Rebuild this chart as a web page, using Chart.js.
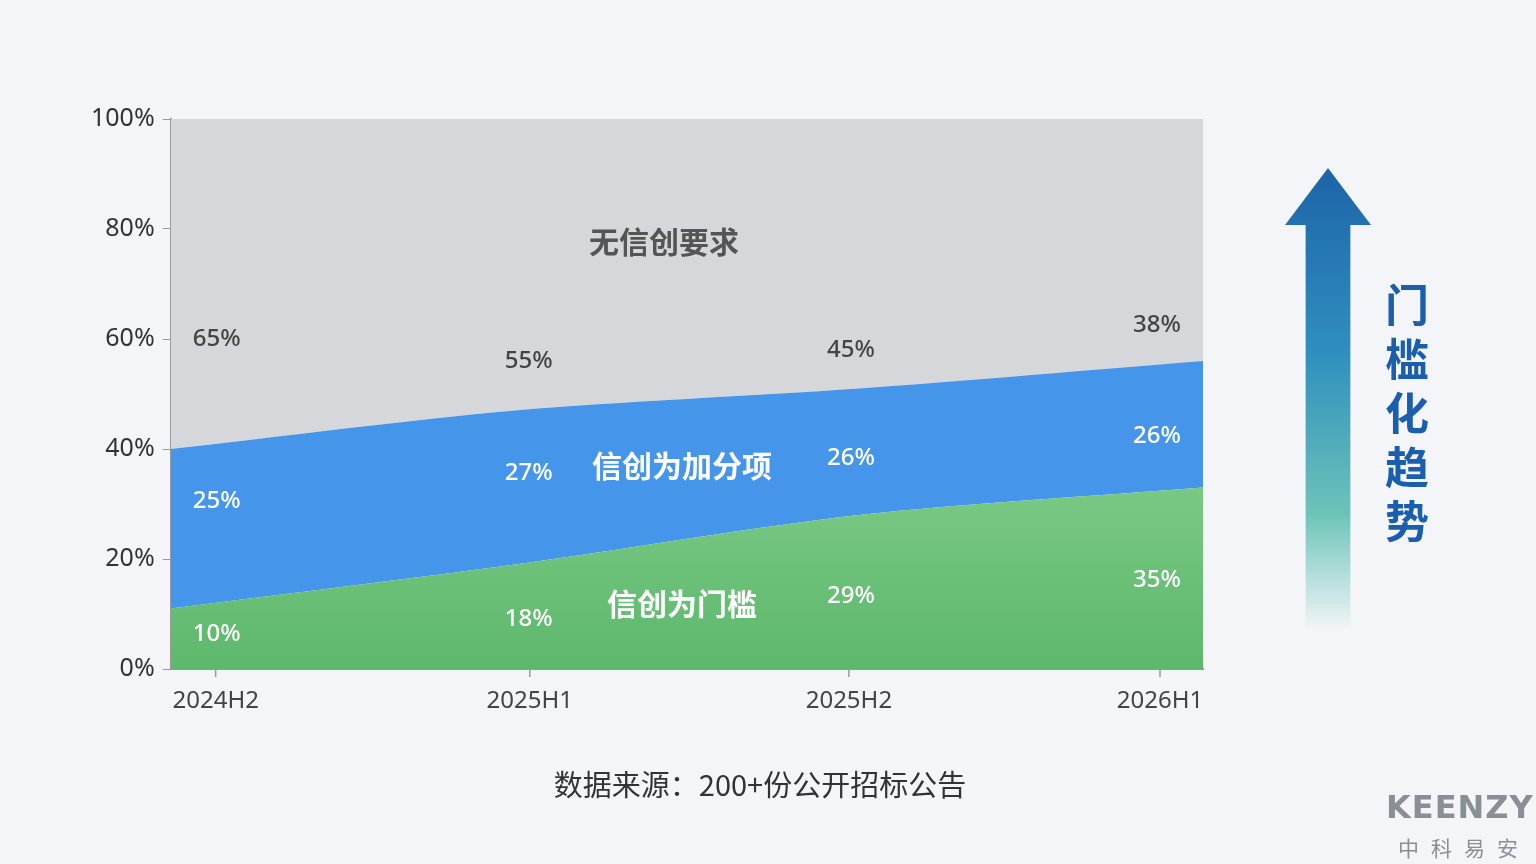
<!DOCTYPE html>
<html><head><meta charset="utf-8">
<script src="https://cdn.jsdelivr.net/npm/chart.js@4"></script>
<style>
body{margin:0;background:#f3f5f8;font-family:"Noto Sans CJK SC","Noto Sans",sans-serif;}
#wrap{position:absolute;left:0;top:0;width:1536px;height:864px;}
#arrow{position:absolute;left:1285px;top:168px;width:86px;height:462px;
clip-path:polygon(50% 0,100% 57px,76% 57px,76% 100%,24% 100%,24% 57px,0 57px);
background:linear-gradient(#1d64a8,#2f8fbf 40%,#6cc4b8 75%,rgba(150,215,200,0) 100%);}
#trend{position:absolute;left:1382px;top:276px;width:50px;font-size:44px;font-weight:bold;color:#1a5fae;line-height:54px;text-align:center;}
#src{position:absolute;left:0;width:1520px;top:762px;text-align:center;font-size:29px;color:#333;}
#logo{position:absolute;left:1386px;top:788px;font-family:"DejaVu Sans";font-size:32px;font-weight:bold;color:#8a8f96;letter-spacing:1px;}
#logo2{position:absolute;left:1398px;top:832px;font-size:21px;color:#8a8f96;letter-spacing:12px;}
</style></head><body>
<div id="wrap"><canvas id="c" width="1536" height="864"></canvas></div>
<div id="arrow"></div>
<div id="trend">门<br>槛<br>化<br>趋<br>势</div>
<div id="src">数据来源：200+份公开招标公告</div>
<div id="logo">KEENZY</div>
<div id="logo2">中科易安</div>
<script>
var periods = ['2024H2', '2025H1', '2025H2', '2026H1'];
var greenVals = [11, 19, 28, 33];
var blueVals = [29, 28, 23, 23];
var grayVals = [60, 53, 49, 44];
var greenLabels = ['10%', '18%', '29%', '35%'];
var blueLabels = ['25%', '27%', '26%', '26%'];
var grayLabels = ['65%', '55%', '45%', '38%'];
var yTicks = [0, 20, 40, 60, 80, 100];

// label placement (style only)
var labelShift = [46, 14, -8, -46];
var tickShift = [45, 15, -10, -43];
var greenPos = [6.4, 9.1, 13.3, 16.2];
var bluePos = [19.5, 16.6, 10.4, 9.4];
var grayPos = [20, 9, 7, 6.5];

var labelPlugin = {
  id: 'labels',
  afterDatasetsDraw: function (chart) {
    var ctx = chart.ctx, x = chart.scales.x, y = chart.scales.y;
    ctx.save();
    ctx.textAlign = 'center';
    ctx.textBaseline = 'middle';
    for (var i = 0; i < periods.length; i++) {
      var cx = x.getPixelForValue(i);
      var px = cx + labelShift[i];
      var g = greenVals[i], b = blueVals[i];
      ctx.font = '500 24px "Noto Sans", sans-serif';
      ctx.fillStyle = '#ffffff';
      ctx.fillText(greenLabels[i], px, y.getPixelForValue(greenPos[i]));
      ctx.fillText(blueLabels[i], px, y.getPixelForValue(g + bluePos[i]));
      ctx.fillStyle = '#444';
      ctx.fillText(grayLabels[i], px, y.getPixelForValue(g + b + grayPos[i]));
      // x tick labels and marks
      var tx = cx + tickShift[i];
      ctx.fillStyle = '#444';
      ctx.font = '24px "Noto Sans", sans-serif';
      ctx.fillText(periods[i], tx, y.bottom + 32);
      ctx.strokeStyle = '#999';
      ctx.lineWidth = 1.5;
      ctx.beginPath(); ctx.moveTo(tx, y.bottom); ctx.lineTo(tx, y.bottom + 8); ctx.stroke();
    }
    ctx.font = 'bold 30px "Noto Sans CJK SC", sans-serif';
    ctx.fillStyle = '#555';
    ctx.fillText('无信创要求', 664, 242);
    ctx.fillStyle = '#fff';
    ctx.fillText('信创为加分项', 682, 466);
    ctx.fillText('信创为门槛', 682, 604);
    ctx.restore();
  }
};

var ctx = document.getElementById('c').getContext('2d');
var greenGrad = ctx.createLinearGradient(0, 480, 0, 669);
greenGrad.addColorStop(0, '#7ac985');
greenGrad.addColorStop(1, '#5db86c');

new Chart(ctx, {
  type: 'line',
  data: {
    labels: periods,
    datasets: [
      { data: greenVals, fill: 'origin', backgroundColor: greenGrad, borderWidth: 0, pointRadius: 0, tension: 0.3 },
      { data: blueVals, fill: '-1', backgroundColor: '#4596ea', borderWidth: 0, pointRadius: 0, tension: 0.3 },
      { data: grayVals, fill: '-1', backgroundColor: '#d5d7db', borderWidth: 0, pointRadius: 0, tension: 0.3 }
    ]
  },
  options: {
    responsive: false,
    animation: false,
    layout: { padding: { left: 83, top: 119, right: 333, bottom: 187 } },
    plugins: { legend: { display: false }, tooltip: { enabled: false } },
    scales: {
      x: {
        offset: false,
        grid: { display: false },
        border: { color: '#999', width: 2 },
        ticks: { display: false }
      },
      y: {
        stacked: true, min: 0, max: 100,
        afterBuildTicks: function (s) { s.ticks = yTicks.map(function (v) { return { value: v }; }); },
        grid: { drawOnChartArea: false, drawTicks: true, tickLength: 8, color: '#999' },
        border: { color: '#999', width: 2 },
        ticks: { color: '#333', font: { size: 25, family: 'Noto Sans' }, padding: 8,
          callback: function (v) { return v + '%'; } }
      }
    }
  },
  plugins: [labelPlugin]
});
</script>
</body></html>
